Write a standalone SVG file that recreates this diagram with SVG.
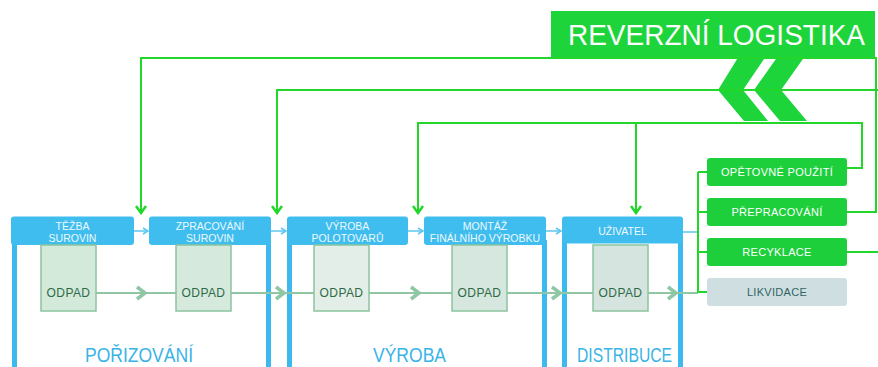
<svg xmlns="http://www.w3.org/2000/svg" width="878" height="367" viewBox="0 0 878 367">
  <defs>
    <style>
      .hdr{fill:#3fbdee}
      .bar{fill:#3cb9ee}
      .htxt{font-family:"Liberation Sans",Arial,sans-serif;font-size:10.5px;fill:#eef9fe;text-anchor:middle}
      .phase{font-family:"Liberation Sans",Arial,sans-serif;font-size:20px;fill:#3ab3e6;text-anchor:middle}
      .wbox{stroke:#8cc49f;stroke-width:1.5}
      .wtxt{font-family:"Liberation Sans",Arial,sans-serif;font-size:12px;fill:#2d6a45;text-anchor:middle;letter-spacing:0.4px}
      .gbox{fill:#1dcf3b}
      .gtxt{font-family:"Liberation Sans",Arial,sans-serif;font-size:11px;fill:#ffffff;text-anchor:middle;letter-spacing:0.3px}
      .rl{fill:none;stroke:#22d62a;stroke-width:2}
      .flow{fill:none;stroke:#8fc6a3;stroke-width:2}
      .chev{fill:none;stroke:#8fc6a3;stroke-width:3.5;stroke-linejoin:miter}
      .blue{fill:none;stroke:#5cc6f0;stroke-width:1.5}
    </style>
    <marker id="gArrow" viewBox="0 0 10 12" refX="8" refY="6" markerWidth="10" markerHeight="12" markerUnits="userSpaceOnUse" orient="auto">
      <path d="M1,1 L8,6 L1,11" fill="none" stroke="#22d62a" stroke-width="2.5"/>
    </marker>
    <marker id="bArrow" viewBox="0 0 7 8" refX="6" refY="4" markerWidth="7" markerHeight="8" markerUnits="userSpaceOnUse" orient="auto">
      <path d="M1,1 L6,4 L1,7" fill="none" stroke="#5cc6f0" stroke-width="1.5"/>
    </marker>
  </defs>

  <rect width="878" height="367" fill="#ffffff"/>

  <!-- title banner with chevrons -->
  <g id="title">
    <rect x="551" y="11" width="324" height="46" fill="#1dd43a"/>
    <polygon points="739,56 766,56 743,90 768,121 744,121 718,90" fill="#1dd43a"/>
    <polygon points="778,56 805,56 781,90 807,121 780,121 754,90" fill="#1dd43a"/>
    <text x="568" y="45" font-family="'Liberation Sans',Arial,sans-serif" font-size="29" fill="#ffffff" textLength="297" lengthAdjust="spacingAndGlyphs">REVERZNÍ LOGISTIKA</text>
  </g>

  <!-- phase containers -->
  <g id="porizovani">
    <rect class="bar" x="12" y="240" width="5" height="130"/>
    <rect class="bar" x="266" y="240" width="5" height="130"/>
    <text class="phase" x="139" y="362" textLength="108" lengthAdjust="spacingAndGlyphs">POŘIZOVÁNÍ</text>
  </g>
  <g id="vyroba">
    <rect class="bar" x="287" y="240" width="5" height="130"/>
    <rect class="bar" x="542" y="240" width="5" height="130"/>
    <text class="phase" x="409.5" y="362" textLength="73" lengthAdjust="spacingAndGlyphs">VÝROBA</text>
  </g>
  <g id="distribuce">
    <rect class="bar" x="562" y="240" width="5" height="130"/>
    <rect class="bar" x="678" y="240" width="5" height="130"/>
    <text class="phase" x="624.5" y="362" textLength="95" lengthAdjust="spacingAndGlyphs">DISTRIBUCE</text>
  </g>

  <!-- connectors -->
  <g id="connectors">
    <!-- waste flow -->
    <path class="flow" d="M96,293 H698"/>
    <path class="chev" d="M137,287 L145,293 L137,299"/>
    <path class="chev" d="M276,287 L284,293 L276,299"/>
    <path class="chev" d="M411,287 L419,293 L411,299"/>
    <path class="chev" d="M552,287 L560,293 L552,299"/>
    <path class="chev" d="M668,287 L676,293 L668,299"/>
    <!-- process flow -->
    <path class="blue" d="M134,231 H148" marker-end="url(#bArrow)"/>
    <path class="blue" d="M271,231 H286" marker-end="url(#bArrow)"/>
    <path class="blue" d="M408,231 H423" marker-end="url(#bArrow)"/>
    <path class="blue" d="M546,231 H561" marker-end="url(#bArrow)"/>
    <path class="blue" d="M683,232 H698"/>
    <!-- end-of-life options -->
    <path class="rl" d="M698,172 V293"/>
    <path class="rl" d="M698,172 H707 M698,212 H707 M698,252 H707 M698,292 H707"/>
    <!-- reverse flows -->
    <path class="rl" d="M847,212 H876 V58 H141 V213" marker-end="url(#gArrow)"/>
    <path class="rl" d="M878,90 H277 V213" marker-end="url(#gArrow)"/>
    <path class="rl" d="M847,252 H878"/>
    <path class="rl" d="M847,168 H862 V123 H418 V213" marker-end="url(#gArrow)"/>
    <path class="rl" d="M636,123 V213" marker-end="url(#gArrow)"/>
  </g>

  <!-- process steps -->
  <g id="tezba">
    <rect class="hdr" x="11" y="216.5" width="123" height="28.5" rx="3"/>
    <text class="htxt" x="72.5" y="229.5">TĚŽBA</text>
    <text class="htxt" x="72.5" y="242">SUROVIN</text>
  </g>
  <g id="zpracovani">
    <rect class="hdr" x="149" y="216.5" width="122" height="28.5" rx="3"/>
    <text class="htxt" x="210" y="229.5">ZPRACOVÁNÍ</text>
    <text class="htxt" x="210" y="242">SUROVIN</text>
  </g>
  <g id="polotovary">
    <rect class="hdr" x="287" y="216.5" width="121" height="28.5" rx="3"/>
    <text class="htxt" x="347.5" y="229.5">VÝROBA</text>
    <text class="htxt" x="347.5" y="242">POLOTOVARŮ</text>
  </g>
  <g id="montaz">
    <rect class="hdr" x="424" y="216.5" width="122" height="28.5" rx="3"/>
    <text class="htxt" x="485" y="229.5">MONTÁŽ</text>
    <text class="htxt" x="485" y="242">FINÁLNÍHO VÝROBKU</text>
  </g>
  <g id="uzivatel">
    <rect class="hdr" x="562" y="216.5" width="121" height="27" rx="3"/>
    <text class="htxt" x="622.5" y="234.5" font-size="9.5">UŽIVATEL</text>
  </g>

  <!-- waste boxes -->
  <g id="odpad1">
    <rect class="wbox" x="41" y="245" width="55" height="66" fill="#d3eadb"/>
    <text class="wtxt" x="68.5" y="297">ODPAD</text>
  </g>
  <g id="odpad2">
    <rect class="wbox" x="176" y="245" width="55" height="66" fill="#d5eadd"/>
    <text class="wtxt" x="203.5" y="297">ODPAD</text>
  </g>
  <g id="odpad3">
    <rect class="wbox" x="314" y="245" width="55" height="66" fill="#e2eee7"/>
    <text class="wtxt" x="341.5" y="297">ODPAD</text>
  </g>
  <g id="odpad4">
    <rect class="wbox" x="452" y="245" width="55" height="66" fill="#d5e7de"/>
    <text class="wtxt" x="479.5" y="297">ODPAD</text>
  </g>
  <g id="odpad5">
    <rect class="wbox" x="593" y="245" width="55" height="66" fill="#d5e4df" stroke="#98b7ab"/>
    <text class="wtxt" x="620.5" y="297">ODPAD</text>
  </g>

  <!-- end-of-life boxes -->
  <g id="opetovne">
    <rect class="gbox" x="707" y="158" width="140" height="28" rx="3"/>
    <text class="gtxt" x="777" y="176">OPĚTOVNÉ POUŽITÍ</text>
  </g>
  <g id="prepracovani">
    <rect class="gbox" x="707" y="198" width="140" height="28" rx="3"/>
    <text class="gtxt" x="777" y="216">PŘEPRACOVÁNÍ</text>
  </g>
  <g id="recyklace">
    <rect class="gbox" x="707" y="238" width="140" height="28" rx="3"/>
    <text class="gtxt" x="777" y="256">RECYKLACE</text>
  </g>
  <g id="likvidace">
    <rect x="707" y="278" width="140" height="28" rx="3" fill="#cfdfe1"/>
    <text class="gtxt" x="777" y="296" style="fill:#2f6465">LIKVIDACE</text>
  </g>
</svg>
